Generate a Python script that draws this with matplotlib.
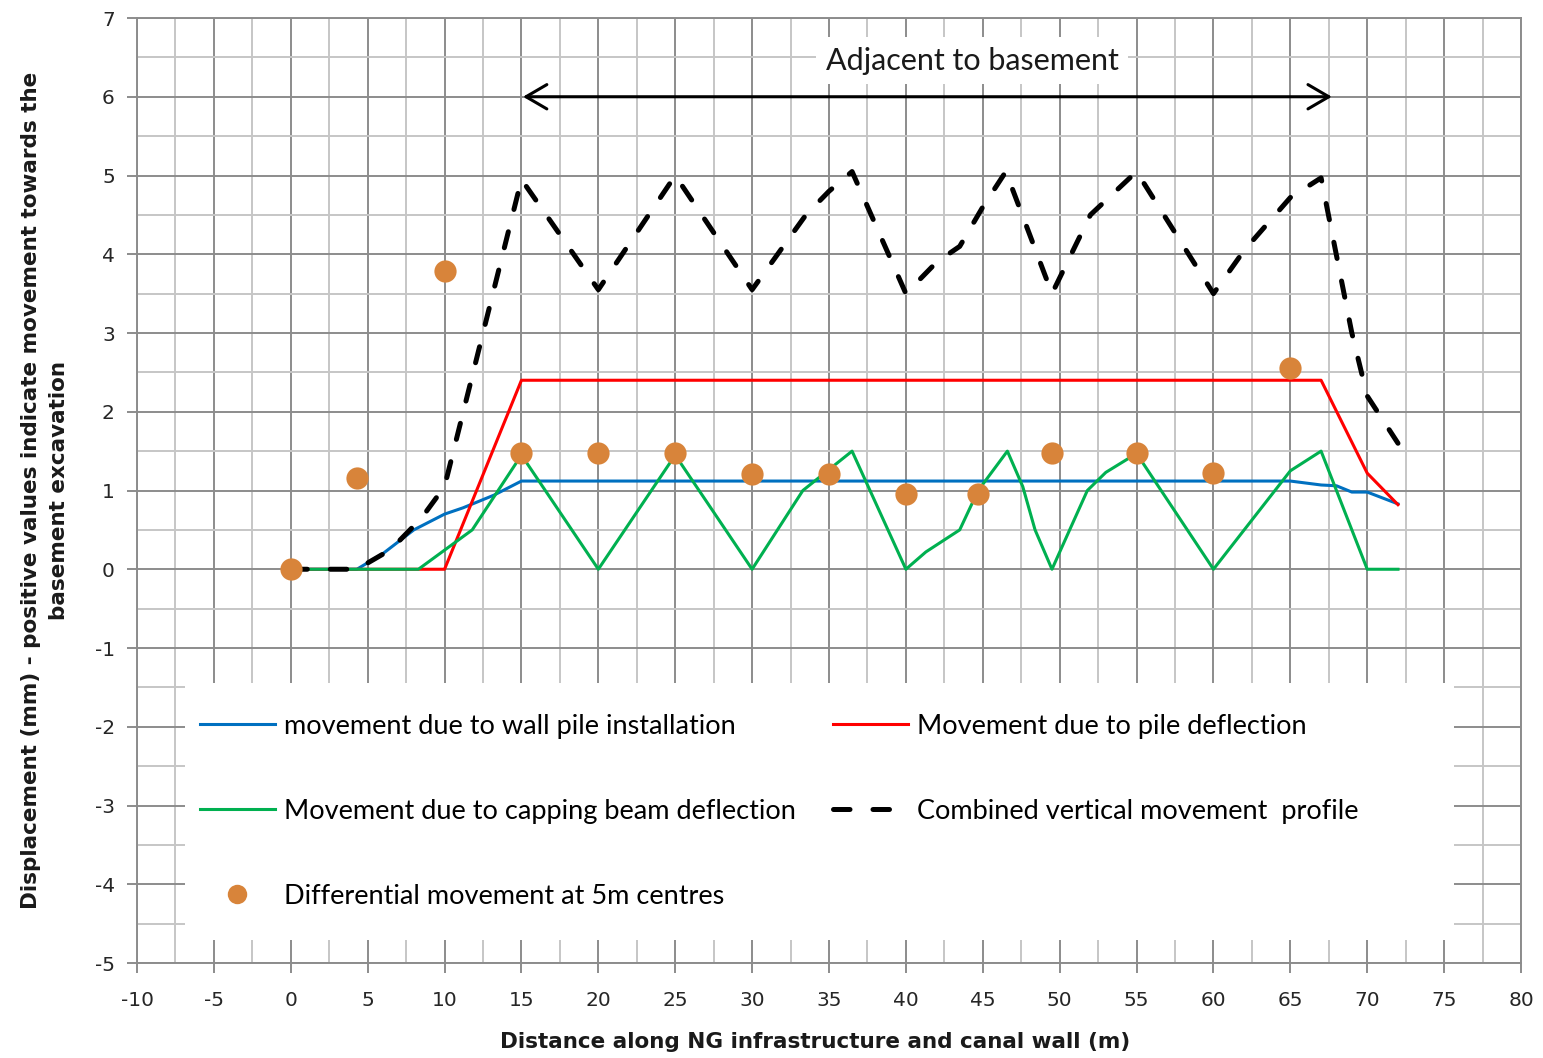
import matplotlib
matplotlib.use("Agg")
import matplotlib.pyplot as plt
from matplotlib.ticker import MultipleLocator
from matplotlib.lines import Line2D
from matplotlib.patches import Rectangle

plt.rcParams["axes.unicode_minus"] = False

# ---- data ----
wall_x = [0, 4.3, 6, 8, 10, 11.2, 13.2, 15, 65, 67, 68, 69, 70, 72]
wall_y = [0, 0, 0.2, 0.5, 0.7, 0.78, 0.94, 1.12, 1.12, 1.07, 1.06, 0.98, 0.98, 0.83]

pile_x = [0, 10, 15, 67, 70, 72]
pile_y = [0, 0, 2.4, 2.4, 1.22, 0.82]

cap_x = [0, 8.3, 11.8, 15, 20, 25, 30, 33.3, 36.5, 40, 41.3, 43.5, 44.7, 46.6, 47.6,
         48.4, 49.5, 51.8, 53, 55, 60, 65, 67, 70, 72]
cap_y = [0, 0, 0.5, 1.45, 0, 1.45, 0, 1.0, 1.5, 0, 0.22, 0.5, 1.0, 1.5, 1.05,
         0.5, 0, 1.0, 1.23, 1.47, 0, 1.25, 1.5, 0, 0]

comb_x = [0, 4.3, 6.5, 8.5, 10, 15, 20, 25, 30, 33.5, 35, 36.5, 40, 42, 43.5, 45,
          46.5, 49.5, 52, 55, 60, 62, 65, 67, 69, 70, 72]
comb_y = [0, 0, 0.25, 0.65, 1.05, 4.95, 3.55, 5.0, 3.55, 4.5, 4.8, 5.05, 3.5, 3.9, 4.1, 4.6,
          5.05, 3.5, 4.5, 5.05, 3.5, 4.05, 4.72, 4.97, 3.0, 2.2, 1.6]

diff_x = [0, 4.3, 10, 15, 20, 25, 30, 35, 40, 44.7, 49.5, 55, 60, 65]
diff_y = [0, 1.16, 3.79, 1.47, 1.47, 1.47, 1.21, 1.21, 0.96, 0.96, 1.47, 1.47, 1.22, 2.55]

BLUE, RED, GREEN, ORANGE = "#0070C0", "#FF0000", "#00B050", "#D8843A"
GRID_MAJ, GRID_MIN = "#8c8c8c", "#c6c6c6"
LEG_FONT = "Lato"
DASH = (3.3, 4.6)

fig = plt.figure(figsize=(15.43, 10.58), dpi=100)
ax = fig.add_axes([137 / 1543, 1 - 963 / 1058, 1384 / 1543, 945 / 1058])

ax.set_xlim(-10, 80)
ax.set_ylim(-5, 7)
ax.xaxis.set_major_locator(MultipleLocator(5))
ax.xaxis.set_minor_locator(MultipleLocator(2.5))
ax.yaxis.set_major_locator(MultipleLocator(1))
ax.yaxis.set_minor_locator(MultipleLocator(0.5))
ax.set_axisbelow(True)
ax.grid(which="major", color=GRID_MAJ, lw=1.4)
ax.grid(which="minor", color=GRID_MIN, lw=1.4)
for s in ax.spines.values():
    s.set_color(GRID_MAJ)
    s.set_linewidth(1.4)
ax.tick_params(which="major", direction="out", length=7, width=1.4, color=GRID_MAJ,
               labelsize=14.5, labelcolor="#262626")
ax.tick_params(axis="x", which="major", pad=13)
ax.tick_params(axis="y", which="major", pad=9)
ax.tick_params(which="minor", length=0)

# white legend area hiding the grid
ax.add_patch(Rectangle((0.0347, 0.0243), 0.917, 0.272, transform=ax.transAxes,
                       facecolor="white", edgecolor="none", zorder=1))

ax.plot(wall_x, wall_y, color=BLUE, lw=2.2, zorder=3)
ax.plot(pile_x, pile_y, color=RED, lw=2.2, zorder=3)
ax.plot(cap_x, cap_y, color=GREEN, lw=2.2, zorder=4)
ax.plot(comb_x, comb_y, color="black", lw=3.6, dashes=DASH,
        dash_capstyle="round", zorder=5)
ax.plot(diff_x, diff_y, "o", color=ORANGE, ms=16, mec="none", zorder=6)

ax.annotate("", xy=(67.7, 6.0), xytext=(15.1, 6.0),
            arrowprops=dict(arrowstyle="<->,head_length=0.6,head_width=0.35",
                            lw=2.2, color="black", mutation_scale=25,
                            shrinkA=0, shrinkB=0), zorder=6)
ax.text(44.3, 6.46, "Adjacent to basement", ha="center", va="center", fontsize=22,
        family=LEG_FONT, color="#1a1a1a",
        bbox=dict(boxstyle="square,pad=0.3", fc="white", ec="none"), zorder=6)

# legend in two manual columns
h_wall = Line2D([], [], color=BLUE, lw=2.2)
h_cap = Line2D([], [], color=GREEN, lw=2.2)
h_diff = Line2D([], [], ls="none", marker="o", color=ORANGE, ms=14, mec="none")
h_pile = Line2D([], [], color=RED, lw=2.2)
h_comb = Line2D([], [], color="black", lw=3.6, dashes=DASH, dash_capstyle="round")

leg_kw = dict(loc="upper left", frameon=False, handlelength=2.77,
              handletextpad=0.33, labelspacing=2.22, borderpad=0, borderaxespad=0,
              prop={"family": LEG_FONT, "size": 19.5})
leg1 = ax.legend([h_wall, h_cap, h_diff],
                 ["movement due to wall pile installation",
                  "Movement due to capping beam deflection",
                  "Differential movement at 5m centres"],
                 bbox_to_anchor=(0.0455, 0.264), **leg_kw)
ax.add_artist(leg1)
ax.legend([h_pile, h_comb],
          ["Movement due to pile deflection", "Combined vertical movement  profile"],
          bbox_to_anchor=(0.503, 0.264), **leg_kw)

fig.text(815 / 1543, 1 - 1042 / 1058, "Distance along NG infrastructure and canal wall (m)",
         ha="center", va="center", fontsize=15.5, fontweight="bold", color="#1a1a1a")
fig.text(45 / 1543, 1 - 490 / 1058,
         "Displacement (mm) - positive values indicate movement towards the\nbasement excavation",
         ha="center", va="center", rotation=90, multialignment="center",
         fontsize=15.5, fontweight="bold", color="#1a1a1a", linespacing=1.55)

fig.savefig("out.png", dpi=100)
